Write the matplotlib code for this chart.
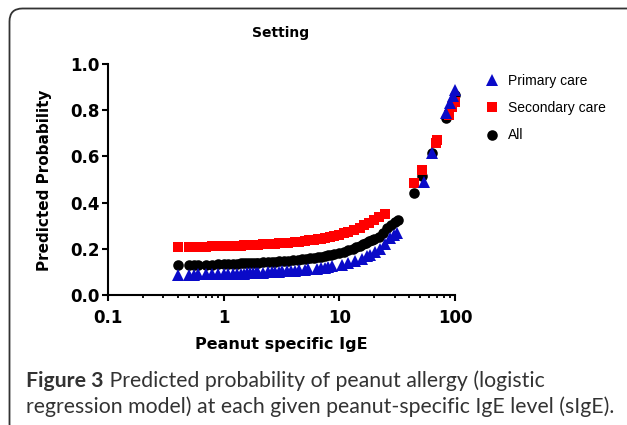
import matplotlib
matplotlib.use("Agg")
import matplotlib.pyplot as plt
from matplotlib.patches import FancyBboxPatch
from matplotlib.transforms import IdentityTransform

# ---- data (sIgE level -> predicted probability) ----
x_all = [0.4, 0.5, 0.55, 0.6, 0.7, 0.8, 0.9, 1.0, 1.1, 1.2, 1.3, 1.4, 1.5, 1.6, 1.7, 1.8, 1.9,
         2.0, 2.2, 2.4, 2.6, 2.8, 3.0, 3.3, 3.6, 4.0, 4.4, 4.8, 5.2, 5.6, 6.0, 6.5, 7.0, 7.5,
         8.0, 8.5, 9.0, 10, 11, 12, 13, 14, 15, 16, 17, 18, 19, 20, 22, 24, 26, 28, 30, 32,
         44, 52, 63, 83, 100]
y_all = [0.128, 0.128, 0.129, 0.130, 0.131, 0.132, 0.133, 0.134, 0.135, 0.135, 0.136, 0.137,
         0.137, 0.138, 0.138, 0.139, 0.140, 0.140, 0.141, 0.142, 0.143, 0.145, 0.146, 0.147,
         0.149, 0.151, 0.153, 0.155, 0.157, 0.159, 0.161, 0.164, 0.166, 0.169, 0.172, 0.175,
         0.177, 0.183, 0.188, 0.194, 0.200, 0.206, 0.214, 0.221, 0.227, 0.232, 0.237, 0.243,
         0.250, 0.270, 0.288, 0.302, 0.315, 0.325,
         0.440, 0.516, 0.615, 0.765, 0.865]

x_sec = [0.4, 0.5, 0.6, 0.7, 0.8, 0.9, 1.0, 1.1, 1.2, 1.3, 1.4, 1.5, 1.6, 1.8, 2.0, 2.2, 2.4,
         2.6, 2.8, 3.0, 3.3, 3.6, 4.1, 4.5, 5.0, 5.5, 6.0, 6.5, 7.0, 7.5, 8.3, 9.0, 10, 11, 12,
         13.5, 15, 16.5, 18, 20, 22, 25,
         44.5, 52, 68, 70, 88.5, 94, 100]
y_sec = [0.207, 0.208, 0.209, 0.209, 0.210, 0.211, 0.212, 0.212, 0.213, 0.214, 0.214, 0.215,
         0.215, 0.216, 0.218, 0.219, 0.220, 0.221, 0.222, 0.223, 0.224, 0.226, 0.229, 0.231,
         0.234, 0.236, 0.238, 0.241, 0.243, 0.246, 0.252, 0.256, 0.261, 0.267, 0.273, 0.282,
         0.292, 0.302, 0.312, 0.325, 0.336, 0.350,
         0.486, 0.541, 0.657, 0.670, 0.780, 0.815, 0.837]

x_pri = [0.4, 0.5, 0.55, 0.6, 0.7, 0.8, 0.9, 1.0, 1.1, 1.2, 1.3, 1.4, 1.5, 1.6, 1.7, 1.8, 1.9,
         2.0, 2.2, 2.4, 2.6, 2.8, 3.0, 3.2, 3.5, 3.8, 4.1, 4.5, 5.0, 5.4, 6.4, 7.0, 7.5, 8.0,
         8.6, 10.5, 12, 13.7, 15.7, 17.3, 18.3, 20.5, 22.5, 25, 27.5, 29.5, 31.6,
         53.5, 63.5, 83, 90.5, 96, 100]
y_pri = [0.087, 0.088, 0.088, 0.089, 0.089, 0.090, 0.090, 0.091, 0.091, 0.092, 0.092, 0.093,
         0.093, 0.094, 0.094, 0.095, 0.095, 0.096, 0.097, 0.098, 0.099, 0.100, 0.101, 0.102,
         0.103, 0.104, 0.106, 0.107, 0.109, 0.111, 0.114, 0.117, 0.119, 0.121, 0.124, 0.132,
         0.139, 0.147, 0.158, 0.167, 0.173, 0.187, 0.200, 0.222, 0.245, 0.258, 0.270,
         0.490, 0.613, 0.790, 0.830, 0.860, 0.887]

x_ticks = [0.1, 1, 10, 100]
x_ticklabels = ["0.1", "1", "10", "100"]
y_ticks = [0.0, 0.2, 0.4, 0.6, 0.8, 1.0]

BLUE, RED = "#0a0ac8", "#ff0000"
W, H = 627, 425

plt.rcParams["font.family"] = ["DejaVu Sans"]
fig = plt.figure(figsize=(W / 100, H / 100), dpi=100)
ax = fig.add_axes([108 / W, 1 - 295 / H, 347 / W, 231 / H])

l_all, = ax.plot(x_all, y_all, "o", color="black", ms=7.6, mew=0, label="All", zorder=3)
l_sec, = ax.plot(x_sec, y_sec, "s", color=RED, ms=7.2, mew=0, label="Secondary care", zorder=4)
l_pri, = ax.plot(x_pri, y_pri, "^", color=BLUE, ms=8.4, mew=0, label="Primary care", zorder=5)

ax.set_xscale("log")
ax.set_xlim(0.1, 100)
ax.set_ylim(0, 1.0)
ax.set_xticks(x_ticks)
ax.set_xticklabels(x_ticklabels)
ax.set_yticks(y_ticks)
ax.set_yticklabels([f"{v:.1f}" for v in y_ticks])
for s in ("top", "right"):
    ax.spines[s].set_visible(False)
for s in ("left", "bottom"):
    ax.spines[s].set_linewidth(1.5)
ax.tick_params(which="major", length=4, width=1.5, direction="out")
ax.tick_params(axis="x", which="minor", length=2.5, width=1.3)
ax.tick_params(axis="x", pad=6)
ax.tick_params(axis="y", pad=2)
for t in ax.get_xticklabels() + ax.get_yticklabels():
    t.set_fontweight("bold")
    t.set_fontsize(12)
for l in (l_all, l_sec, l_pri):
    l.set_clip_on(False)

fig.text(281 / W, 1 - 33 / H, "Setting", ha="center", va="center", fontsize=10, fontweight="bold")
fig.text(45 / W, 1 - 180 / H, "Predicted Probability", rotation=90, ha="center", va="center",
         fontsize=11, fontweight="bold")
fig.text(281 / W, 1 - 344 / H, "Peanut specific IgE", ha="center", va="center",
         fontsize=11.5, fontweight="bold")

ax.legend(handles=[l_pri, l_sec, l_all], loc="upper left", bbox_to_anchor=(486 / W, 1 - 74 / H),
          bbox_transform=fig.transFigure, frameon=False, borderpad=0, borderaxespad=0,
          prop={"family": "Liberation Sans", "size": 10},
          handlelength=0.8, handletextpad=0.75, labelspacing=0.95)

# caption
cap_col = "#333333"
t1 = fig.text(26 / W, 1 - 387 / H, "Figure 3", fontsize=15.3, fontweight="bold", color=cap_col,
              family="Lato", va="baseline")
ax.annotate(" Predicted probability of peanut allergy (logistic", xy=(1, 0), xycoords=t1,
            va="bottom", ha="left", fontsize=15.3, color=cap_col, family="Lato")
fig.text(26 / W, 1 - 413 / H, "regression model) at each given peanut-specific IgE level (sIgE).",
         fontsize=15.3, color=cap_col, family="Lato", va="baseline")

# rounded frame running off the right and bottom edges
fig.patches.append(FancyBboxPatch((9.5, -12), 640, 12 + H - 8.5,
                                  boxstyle="round,pad=0,rounding_size=13",
                                  transform=IdentityTransform(), fill=False,
                                  edgecolor="#333333", linewidth=1.3))

fig.savefig("out.png", dpi=100)
